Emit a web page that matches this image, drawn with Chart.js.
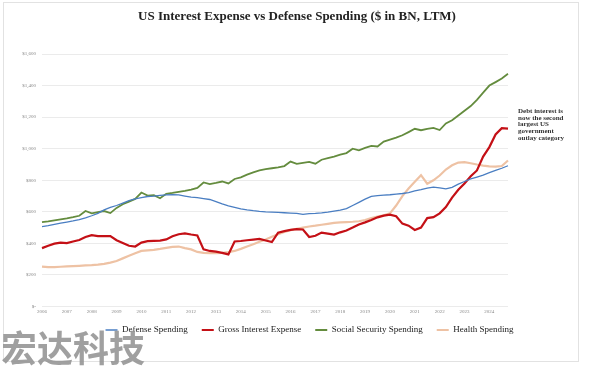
<!DOCTYPE html>
<html>
<head>
<meta charset="utf-8">
<script src="https://cdn.jsdelivr.net/npm/chart.js@4.4.0/dist/chart.umd.min.js"></script>
<style>
  html, body { margin: 0; padding: 0; background: #fff; }
  #wrap { width: 591px; height: 368px; }
</style>
</head>
<body>
<div id="wrap"><canvas id="chart" width="591" height="368"></canvas></div>
<script>
// trimestres 2006 Q1 .. 2024 Q4
const quarters = [];
for (let y = 2006; y <= 2024; y++) {
  for (let q = 1; q <= 4; q++) quarters.push(y + ' Q' + q);
}

const yTicks = [0, 200, 400, 600, 800, 1000, 1200, 1400, 1600];

// valores ($ BN, LTM)
const defense = [
  506, 512, 520, 528, 535, 542, 550, 562, 575, 590, 612, 628,
  640, 655, 671, 682, 690, 697, 700, 704, 707, 708, 707, 700,
  693, 690, 684, 678, 665, 650, 638, 628, 618, 612, 607, 603,
  600, 598, 596, 594, 592, 590, 584, 588, 590, 593, 598, 604,
  610, 620, 640, 660, 680, 698, 703, 706, 708, 712, 716, 722,
  732, 740, 750, 756, 752, 746, 755, 775, 792, 808, 820, 832,
  848, 862, 876, 892
];
const interest = [
  370, 385, 398, 405, 402, 412, 421, 440, 452, 446, 446, 446,
  420, 402, 385, 380, 405, 414, 416, 418, 425, 445, 458, 463,
  456, 450, 362, 352, 348, 340, 330, 412, 415, 420, 424, 428,
  418, 408, 468, 478, 485, 490, 488, 440, 448, 468, 462, 456,
  470, 482, 500, 520, 533, 548, 565, 576, 582, 572, 525, 512,
  485, 500, 560, 566, 590, 630, 690, 740, 780, 825, 862, 950,
  1010, 1090, 1130, 1127
];
const socialSecurity = [
  535, 540, 546, 552, 558, 566, 575, 605, 590, 598, 605, 592,
  625, 648, 665, 682, 722, 703, 706, 686, 714, 720, 727, 733,
  740, 752, 786, 775, 783, 792, 780, 808, 818, 836, 850, 862,
  870, 876, 882, 890, 918, 904, 910, 916, 905, 930, 940, 950,
  962, 972, 1000, 990, 1005, 1018, 1014, 1045, 1058, 1070, 1085, 1105,
  1126, 1117, 1125, 1132, 1118, 1160, 1180, 1210, 1240, 1270, 1310, 1355,
  1400, 1422, 1445, 1475
];
const health = [
  253, 250, 250, 252, 254, 256, 258, 260, 262, 265, 270, 278,
  288, 305, 321, 338, 352, 356, 359, 365, 372, 378, 380, 370,
  362, 346, 340, 338, 338, 340, 345, 352, 365, 380, 395, 410,
  425, 442, 458, 472, 484, 492, 500, 507, 512, 518, 524, 530,
  533, 535, 537, 540, 548, 560, 570, 578, 590, 640, 700, 748,
  790, 832, 778, 800, 830, 868, 895, 912, 915, 908, 900, 893,
  888, 886, 890, 925
];

const noteLines = ['Debt interest is', 'now the second', 'largest US', 'government', 'outlay category'];

// texto extra: titulo, nota, marca de agua, marco
const extras = {
  id: 'extras',
  afterLayout(chart) {
    // mover leyenda como en el original
    const lg = chart.legend;
    lg.left = 28;
    lg.right = 591;
    lg.top -= 5;
    lg.bottom -= 5;
  },
  afterDraw(chart) {
    const c = chart.ctx;
    c.save();
    c.strokeStyle = '#e2e2e2';
    c.lineWidth = 1;
    c.strokeRect(3.5, 2.5, 575, 359);

    c.fillStyle = '#222';
    c.textAlign = 'center';
    c.textBaseline = 'middle';
    c.font = 'bold 13px "Liberation Serif"';
    c.fillText('US Interest Expense vs Defense Spending ($ in BN, LTM)', 297, 17);

    c.textAlign = 'left';
    c.font = 'bold 7px "Liberation Serif"';
    c.fillStyle = '#333';
    noteLines.forEach(function (t, i) {
      c.fillText(t, 518, 111 + i * 6.7);
    });

    c.font = 'bold 36px "Noto Sans CJK SC"';
    c.fillStyle = 'rgba(150,150,150,0.9)';
    c.textBaseline = 'alphabetic';
    c.fillText('宏达科技', 1, 362);
    c.restore();
  }
};

new Chart(document.getElementById('chart'), {
  type: 'line',
  data: {
    labels: quarters,
    datasets: [
      { label: 'Defense Spending', data: defense, borderColor: 'rgb(74,126,194)', backgroundColor: 'rgb(74,126,194)', borderWidth: 1.3 },
      { label: 'Gross Interest Expense', data: interest, borderColor: 'rgb(196,16,22)', backgroundColor: 'rgb(196,16,22)', borderWidth: 2.2 },
      { label: 'Social Security Spending', data: socialSecurity, borderColor: 'rgb(100,140,62)', backgroundColor: 'rgb(100,140,62)', borderWidth: 1.8 },
      { label: 'Health Spending', data: health, borderColor: 'rgb(238,194,164)', backgroundColor: 'rgb(238,194,164)', borderWidth: 2.2 }
    ]
  },
  options: {
    responsive: false,
    animation: false,
    elements: { point: { radius: 0 }, line: { tension: 0 } },
    layout: { padding: { top: 54, left: 0, right: 83, bottom: 18.5 } },
    plugins: {
      title: { display: false },
      tooltip: { enabled: false },
      legend: {
        position: 'bottom',
        labels: {
          usePointStyle: true,
          pointStyle: 'line',
          pointStyleWidth: 12,
          padding: 14,
          color: '#222',
          font: { family: '"Liberation Serif"', size: 9 }
        }
      }
    },
    scales: {
      x: {
        offset: false,
        grid: { display: false, drawTicks: false },
        border: { display: false },
        ticks: {
          autoSkip: false,
          maxRotation: 0,
          padding: 2,
          color: '#888',
          font: { family: '"Liberation Serif"', size: 5 },
          callback: function (v, i) {
            const l = quarters[i];
            return l.endsWith('Q1') ? l.slice(0, 4) : '';
          }
        }
      },
      y: {
        min: 0,
        max: 1600,
        afterFit: function (s) { s.width = 42; },
        afterBuildTicks: function (s) { s.ticks = yTicks.map(function (v) { return { value: v }; }); },
        grid: { color: '#ebebeb', drawTicks: false, lineWidth: 1 },
        border: { display: false },
        ticks: {
          padding: 6,
          color: '#888',
          font: { family: '"Liberation Serif"', size: 5 },
          callback: function (v) { return v === 0 ? '$-' : '$' + v.toLocaleString('en-US'); }
        }
      }
    }
  },
  plugins: [extras]
});
</script>
</body>
</html>
